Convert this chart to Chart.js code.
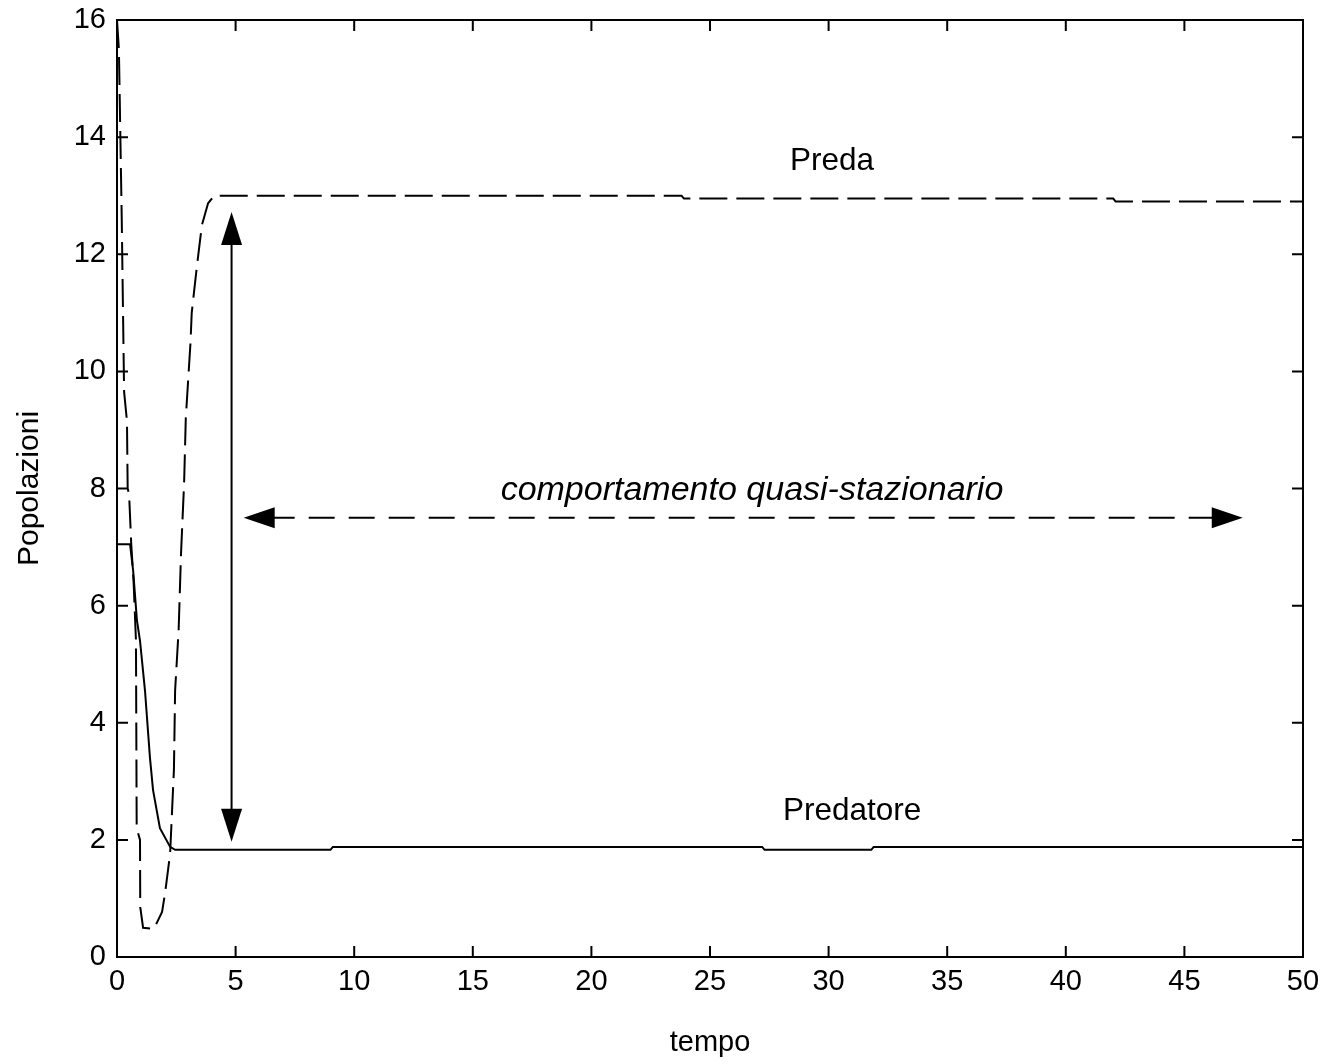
<!DOCTYPE html>
<html>
<head>
<meta charset="utf-8">
<script src="https://cdn.jsdelivr.net/npm/chart.js@4"></script>
<style>
  body { margin: 0; background: #fff; }
  canvas { display: block; }
</style>
</head>
<body>
<canvas id="grafico" width="1323" height="1064"></canvas>
<script>
// preda (tratteggiata) e predatore (continua) nel tempo
var tempoPreda = [0, 0.08, 0.2, 0.3, 0.42, 0.45, 0.51, 0.6, 0.7, 0.8, 0.83, 0.97, 0.98, 1.1, 1.55, 1.64, 1.9, 2.03, 2.24, 2.4, 2.45, 2.6, 2.7, 2.83, 2.9, 3.1, 3.15, 3.37, 3.58, 3.84, 4.1, 23.8, 23.9, 42.0, 42.1, 50];
var preda      = [16, 15.5, 12.6, 9.65, 9.15, 8.0, 7.9, 7.05, 6.4, 5.4, 2.2, 2.0, 0.85, 0.5, 0.48, 0.55, 0.77, 1.1, 1.77, 3.2, 4.55, 5.6, 6.9, 8.1, 9.2, 10.5, 11.0, 11.8, 12.5, 12.87, 13.0, 13.0, 12.95, 12.95, 12.9, 12.9];

var tempoPredatore = [0, 0.55, 0.68, 0.84, 0.97, 1.18, 1.39, 1.52, 1.81, 2.24, 2.45, 9.0, 9.1, 27.2, 27.3, 31.8, 31.9, 50];
var predatore      = [7.05, 7.05, 6.6, 5.75, 5.4, 4.55, 3.4, 2.85, 2.2, 1.88, 1.83, 1.83, 1.88, 1.88, 1.83, 1.83, 1.88, 1.88];

var tickTempo = [0, 5, 10, 15, 20, 25, 30, 35, 40, 45, 50];
var tickPopolazioni = [0, 2, 4, 6, 8, 10, 12, 14, 16];

var font = "'Liberation Sans', Arial, sans-serif";

function punti(xs, ys) {
    var out = [];
    for (var i in xs) out.push({x: xs[i], y: ys[i]});
    return out;
}

// cornice con tacche interne su tutti i lati
var cornice = {
    id: 'cornice',
    beforeDraw: function (chart) {
        var c = chart.ctx;
        c.save();
        c.fillStyle = '#fff';
        c.fillRect(0, 0, chart.width, chart.height);
        c.restore();
    },
    afterDraw: function (chart) {
        var c = chart.ctx, a = chart.chartArea;
        var sx = chart.scales.x, sy = chart.scales.y;
        var L = 11;
        c.save();
        c.strokeStyle = '#000';
        c.lineWidth = 2;
        c.strokeRect(a.left, a.top, a.right - a.left, a.bottom - a.top);
        c.beginPath();
        tickTempo.forEach(function (v) {
            var px = sx.getPixelForValue(v);
            c.moveTo(px, a.bottom); c.lineTo(px, a.bottom - L);
            c.moveTo(px, a.top); c.lineTo(px, a.top + L);
        });
        tickPopolazioni.forEach(function (v) {
            var py = sy.getPixelForValue(v);
            c.moveTo(a.left, py); c.lineTo(a.left + L, py);
            c.moveTo(a.right, py); c.lineTo(a.right - L, py);
        });
        c.stroke();
        c.restore();
    }
};

function punta(c, x, y, ang, lung, larg) {
    c.save();
    c.translate(x, y);
    c.rotate(ang);
    c.beginPath();
    c.moveTo(0, 0);
    c.lineTo(-lung, -larg / 2);
    c.lineTo(-lung, larg / 2);
    c.closePath();
    c.fill();
    c.restore();
}

// frecce e scritte
var note = {
    id: 'note',
    afterDatasetsDraw: function (chart) {
        var c = chart.ctx;
        var sx = chart.scales.x, sy = chart.scales.y;
        c.save();
        c.strokeStyle = '#000';
        c.fillStyle = '#000';
        c.lineWidth = 2;

        // freccia verticale
        var vx = sx.getPixelForValue(4.83);
        var vTop = sy.getPixelForValue(12.72), vBot = sy.getPixelForValue(1.97);
        c.beginPath();
        c.moveTo(vx, vTop + 20); c.lineTo(vx, vBot - 20);
        c.stroke();
        punta(c, vx, vTop, -Math.PI / 2, 33, 21);
        punta(c, vx, vBot, Math.PI / 2, 33, 21);

        // freccia orizzontale tratteggiata
        var hy = sy.getPixelForValue(7.5);
        var hL = sx.getPixelForValue(5.34), hR = sx.getPixelForValue(47.46);
        c.setLineDash([26, 14]);
        c.beginPath();
        c.moveTo(hL + 25, hy); c.lineTo(hR - 25, hy);
        c.stroke();
        c.setLineDash([]);
        punta(c, hL, hy, Math.PI, 31, 21);
        punta(c, hR, hy, 0, 31, 21);

        c.textAlign = 'center';
        c.textBaseline = 'middle';
        c.font = '31.5px ' + font;
        c.fillText('Preda', sx.getPixelForValue(30.14), sy.getPixelForValue(13.59));
        c.fillText('Predatore', sx.getPixelForValue(30.99), sy.getPixelForValue(2.49));
        c.font = 'italic 34px ' + font;
        c.fillText('comportamento quasi-stazionario', sx.getPixelForValue(26.77), sy.getPixelForValue(7.97));
        c.restore();
    }
};

var ctx = document.getElementById('grafico');
var grafico = new Chart(ctx, {
    type: 'scatter',
    data: {
        datasets: [
            {
                label: 'Preda',
                data: punti(tempoPreda, preda),
                showLine: true,
                borderColor: '#000',
                borderWidth: 2,
                borderDash: [28, 9],
                pointRadius: 0,
                tension: 0
            },
            {
                label: 'Predatore',
                data: punti(tempoPredatore, predatore),
                showLine: true,
                borderColor: '#000',
                borderWidth: 2,
                pointRadius: 0,
                tension: 0
            }
        ]
    },
    options: {
        responsive: false,
        animation: false,
        layout: { padding: { top: 20, right: 20, left: 0, bottom: 0 } },
        plugins: { legend: { display: false }, tooltip: { enabled: false } },
        scales: {
            x: {
                type: 'linear', min: 0, max: 50,
                afterBuildTicks: function (s) { s.ticks = tickTempo.map(function (v) { return {value: v}; }); },
                afterFit: function (s) { s.height = 107; s.paddingLeft = 0; s.paddingRight = 0; },
                grid: { display: false, drawTicks: false },
                border: { display: false },
                ticks: { color: '#000', padding: 8, maxRotation: 0, font: { family: font, size: 29 } },
                title: { display: true, text: 'tempo', color: '#000', padding: { top: 0, bottom: 4 }, font: { family: font, size: 29 } }
            },
            y: {
                type: 'linear', min: 0, max: 16,
                afterBuildTicks: function (s) { s.ticks = tickPopolazioni.map(function (v) { return {value: v}; }); },
                afterFit: function (s) { s.width = 117; s.paddingTop = 0; s.paddingBottom = 0; },
                grid: { display: false, drawTicks: false },
                border: { display: false },
                ticks: { color: '#000', padding: 11, font: { family: font, size: 29 } },
                title: { display: true, text: 'Popolazioni', color: '#000', padding: { top: 12, bottom: 0 }, font: { family: font, size: 30 } }
            }
        }
    },
    plugins: [cornice, note]
});
</script>
</body>
</html>
